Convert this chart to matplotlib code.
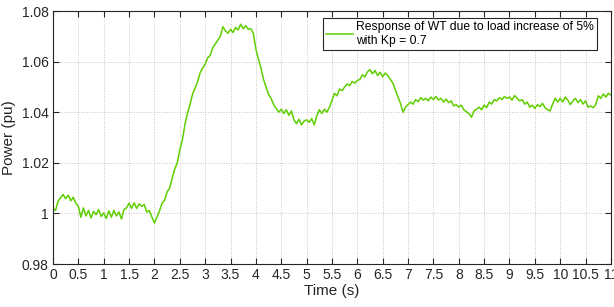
import numpy as np
import matplotlib.pyplot as plt

# time base, 0.05 s steps
t = np.arange(0, 221) * 0.05

power = [
    # 0.00 - 0.95
    1.0020, 1.0012, 1.0048, 1.0062, 1.0075, 1.0058, 1.0072, 1.0050, 1.0064, 1.0040,
    1.0028, 0.9985, 1.0022, 0.9990, 1.0012, 0.9982, 1.0008, 0.9995, 1.0015, 0.9988,
    # 1.00 - 1.95
    1.0002, 0.9980, 1.0010, 0.9985, 1.0012, 0.9990, 1.0006, 0.9978, 1.0015, 1.0022,
    1.0040, 1.0020, 1.0042, 1.0020, 1.0038, 1.0028, 1.0035, 1.0005, 1.0012, 0.9985,
    # 2.00 - 2.95
    0.9962, 0.9985, 1.0010, 1.0040, 1.0052, 1.0085, 1.0100, 1.0140, 1.0175, 1.0200,
    1.0250, 1.0290, 1.0350, 1.0395, 1.0430, 1.0470, 1.0495, 1.0520, 1.0555, 1.0575,
    # 3.00 - 3.95
    1.0590, 1.0615, 1.0625, 1.0655, 1.0670, 1.0685, 1.0700, 1.0738, 1.0722, 1.0712,
    1.0728, 1.0715, 1.0735, 1.0725, 1.0748, 1.0730, 1.0742, 1.0728, 1.0730, 1.0712,
    # 4.00 - 4.95
    1.0650, 1.0610, 1.0575, 1.0530, 1.0500, 1.0470, 1.0455, 1.0430, 1.0415, 1.0400,
    1.0412, 1.0395, 1.0410, 1.0388, 1.0405, 1.0370, 1.0355, 1.0372, 1.0350, 1.0365,
    # 5.00 - 5.95
    1.0370, 1.0360, 1.0375, 1.0350, 1.0385, 1.0410, 1.0395, 1.0412, 1.0400, 1.0420,
    1.0445, 1.0475, 1.0465, 1.0492, 1.0485, 1.0500, 1.0512, 1.0505, 1.0522, 1.0515,
    # 6.00 - 6.95
    1.0525, 1.0530, 1.0548, 1.0540, 1.0560, 1.0568, 1.0552, 1.0565, 1.0545, 1.0558,
    1.0540, 1.0555, 1.0545, 1.0530, 1.0515, 1.0490, 1.0460, 1.0436, 1.0400, 1.0420,
    # 7.00 - 7.95
    1.0430, 1.0440, 1.0432, 1.0450, 1.0442, 1.0458, 1.0448, 1.0455, 1.0445, 1.0460,
    1.0450, 1.0462, 1.0448, 1.0455, 1.0440, 1.0452, 1.0438, 1.0445, 1.0425, 1.0430,
    # 8.00 - 8.95
    1.0420, 1.0428, 1.0410, 1.0402, 1.0395, 1.0380, 1.0405, 1.0412, 1.0420, 1.0410,
    1.0428, 1.0418, 1.0440, 1.0432, 1.0450, 1.0445, 1.0458, 1.0450, 1.0462, 1.0455,
    # 9.00 - 9.95
    1.0460, 1.0448, 1.0466, 1.0455, 1.0445, 1.0450, 1.0432, 1.0440, 1.0420, 1.0428,
    1.0415, 1.0430, 1.0422, 1.0435, 1.0418, 1.0410, 1.0405, 1.0432, 1.0455, 1.0440,
    # 10.00 - 11.00
    1.0455, 1.0440, 1.0460, 1.0448, 1.0430, 1.0445, 1.0455, 1.0438, 1.0450, 1.0432,
    1.0445, 1.0420, 1.0425, 1.0418, 1.0430, 1.0465, 1.0455, 1.0472, 1.0460, 1.0475,
    1.0468,
]

xticks = np.arange(0, 11.01, 0.5)
xticklabels = ['%g' % v for v in xticks]
yticks = [0.98, 1.0, 1.02, 1.04, 1.06, 1.08]
yticklabels = ['0.98', '1', '1.02', '1.04', '1.06', '1.08']

plt.rcParams['font.family'] = ['Liberation Sans', 'DejaVu Sans']

fig = plt.figure(figsize=(6.14, 3.07), dpi=100)
ax = fig.add_axes([0.0863, 0.140, 0.9087, 0.824])

ax.plot(t, power, color='#5fce00', lw=1.1,
        label='Response of WT due to load increase of 5%\nwith Kp = 0.7')

ax.set_xlim(0, 11)
ax.set_ylim(0.98, 1.08)
ax.set_xticks(xticks)
ax.set_xticklabels(xticklabels)
ax.set_yticks(yticks)
ax.set_yticklabels(yticklabels)
ax.tick_params(direction='in', top=True, right=True, length=4, width=0.8,
               labelsize=10, colors='#262626', pad=3)
for s in ax.spines.values():
    s.set_color('#262626')
    s.set_linewidth(0.8)
ax.grid(True, linestyle=':', color='#c4c4c4', lw=0.7)

ax.set_xlabel('Time (s)', fontsize=11, color='#262626', labelpad=1)
ax.set_ylabel('Power (pu)', fontsize=11, color='#262626', labelpad=4)

leg = ax.legend(loc='upper right', bbox_to_anchor=(0.975, 0.972), fontsize=8.7,
                frameon=True, fancybox=False, framealpha=1, handlelength=2.2,
                borderpad=0.25, handletextpad=0.3, labelspacing=0.2,
                borderaxespad=0)
leg.get_frame().set_edgecolor('#262626')
leg.get_frame().set_linewidth(0.8)

fig.savefig('out.png', dpi=100)
